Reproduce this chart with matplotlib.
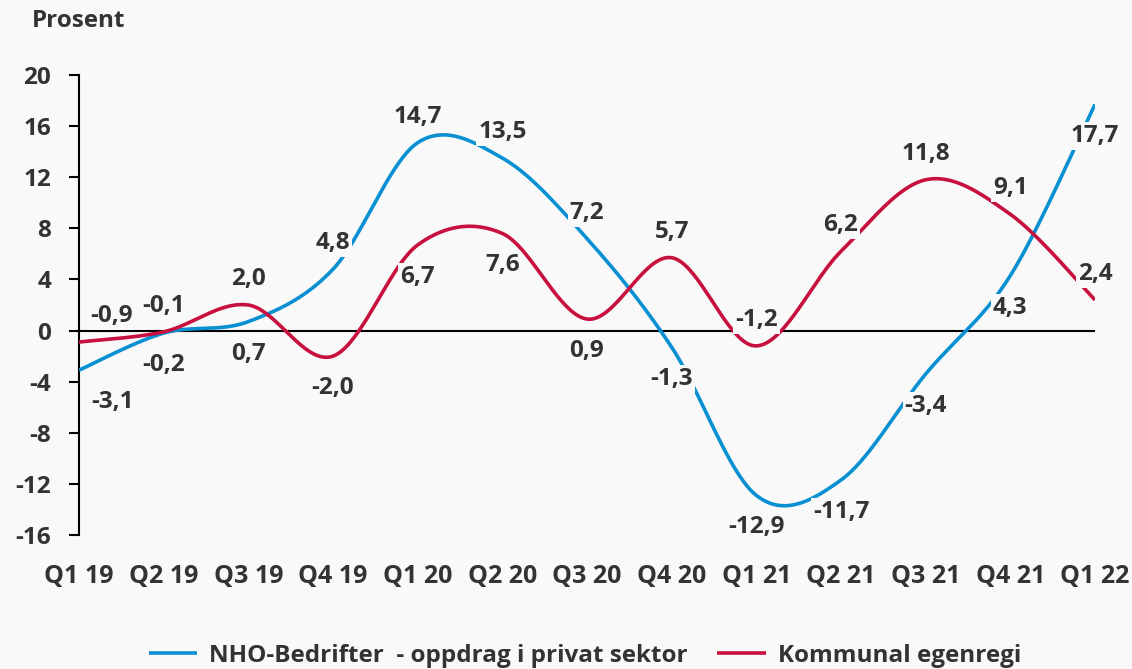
import numpy as np
import matplotlib
matplotlib.use("Agg")
import matplotlib.pyplot as plt

plt.rcParams['font.family'] = ['Open Sans', 'DejaVu Sans']
plt.rcParams['font.weight'] = 'bold'
plt.rcParams['axes.unicode_minus'] = False

# --- data ---
quarters = ["Q1 19", "Q2 19", "Q3 19", "Q4 19", "Q1 20", "Q2 20", "Q3 20",
            "Q4 20", "Q1 21", "Q2 21", "Q3 21", "Q4 21", "Q1 22"]
nho = [-3.1, -0.2, 0.7, 4.8, 14.7, 13.5, 7.2, -1.3, -12.9, -11.7, -3.4, 4.3, 17.7]
kommunal = [-0.9, -0.1, 2.0, -2.0, 6.7, 7.6, 0.9, 5.7, -1.2, 6.2, 11.8, 9.1, 2.4]
nho_pos = ["b", "b", "b", "a", "a", "a", "a", "b", "b", "b", "b", "b", "b"]
kom_pos = ["a", "a", "a", "b", "b", "b", "b", "a", "a", "a", "a", "a", "a"]
yticks = [-16, -12, -8, -4, 0, 4, 8, 12, 16, 20]

BG = "#f9f9f9"
TXT = "#333333"
BLUE = "#0990d2"
RED = "#c8103e"


def smooth(y, n=40):
    # Excel-style smoothed line: cubic Bezier through each pair of points
    y = np.asarray(y, dtype=float)
    x = np.arange(len(y), dtype=float)
    pts = np.column_stack([x, y])
    ext = np.vstack([pts[0], pts, pts[-1]])
    out = []
    t = np.linspace(0, 1, n)[:, None]
    for i in range(len(pts) - 1):
        p0, p3 = ext[i + 1], ext[i + 2]
        p1 = p0 + (ext[i + 2] - ext[i]) / 6
        p2 = p3 - (ext[i + 3] - ext[i + 1]) / 6
        seg = ((1 - t) ** 3) * p0 + 3 * ((1 - t) ** 2) * t * p1 \
            + 3 * (1 - t) * t ** 2 * p2 + t ** 3 * p3
        out.append(seg if i == 0 else seg[1:])
    out = np.vstack(out)
    return out[:, 0], out[:, 1]


fig = plt.figure(figsize=(11.32, 6.69), dpi=100)
fig.patch.set_facecolor(BG)
ax = fig.add_axes([79 / 1132, 1 - 535 / 669, (1095 - 79) / 1132, (535 - 75) / 669])
ax.set_facecolor(BG)
ax.set_xlim(0, len(quarters) - 1)
ax.set_ylim(-16, 20)

for s in ["top", "right", "bottom"]:
    ax.spines[s].set_visible(False)
ax.spines["left"].set_linewidth(1.5)
ax.spines["left"].set_color("black")

ax.set_yticks(yticks)
ax.set_yticklabels([str(v) for v in yticks])
ax.set_xticks(range(len(quarters)))
ax.set_xticklabels(quarters)
ax.tick_params(axis="y", length=7, width=1.5, color="black", pad=13,
               labelsize=17.5, labelcolor=TXT)
ax.tick_params(axis="x", length=0, pad=21, labelsize=18, labelcolor=TXT)

ax.axhline(0, color="black", lw=1.5, zorder=2)

xs, ys = smooth(nho)
ax.plot(xs, ys, color=BLUE, lw=2.6, zorder=3, solid_capstyle="butt",
        label="NHO-Bedrifter  - oppdrag i privat sektor")
xs, ys = smooth(kommunal)
ax.plot(xs, ys, color=RED, lw=2.6, zorder=3, solid_capstyle="butt",
        label="Kommunal egenregi")

# data labels
for series, positions in [(nho, nho_pos), (kommunal, kom_pos)]:
    for i, (v, p) in enumerate(zip(series, positions)):
        dx = 33 if i == 0 else 0
        dy = 26 if p == "a" else -32
        ax.annotate(f"{v:.1f}".replace(".", ","), (i, v),
                    xytext=(dx, dy), textcoords="offset pixels",
                    ha="center", va="center", fontsize=17.5, color=TXT,
                    zorder=5, annotation_clip=False,
                    bbox=dict(boxstyle="square,pad=0.08", fc=BG, ec="none"))

fig.text(32 / 1132, 1 - 21 / 669, "Prosent", fontsize=17.5, color=TXT,
         ha="left", va="center")

leg = fig.legend(loc="center", bbox_to_anchor=(585 / 1132, 1 - 656 / 669),
                 ncol=2, frameon=False, fontsize=17.5, handlelength=2.0,
                 columnspacing=1.2, handletextpad=0.5)
for t in leg.get_texts():
    t.set_color(TXT)

fig.savefig("out.png", dpi=100, facecolor=BG)
